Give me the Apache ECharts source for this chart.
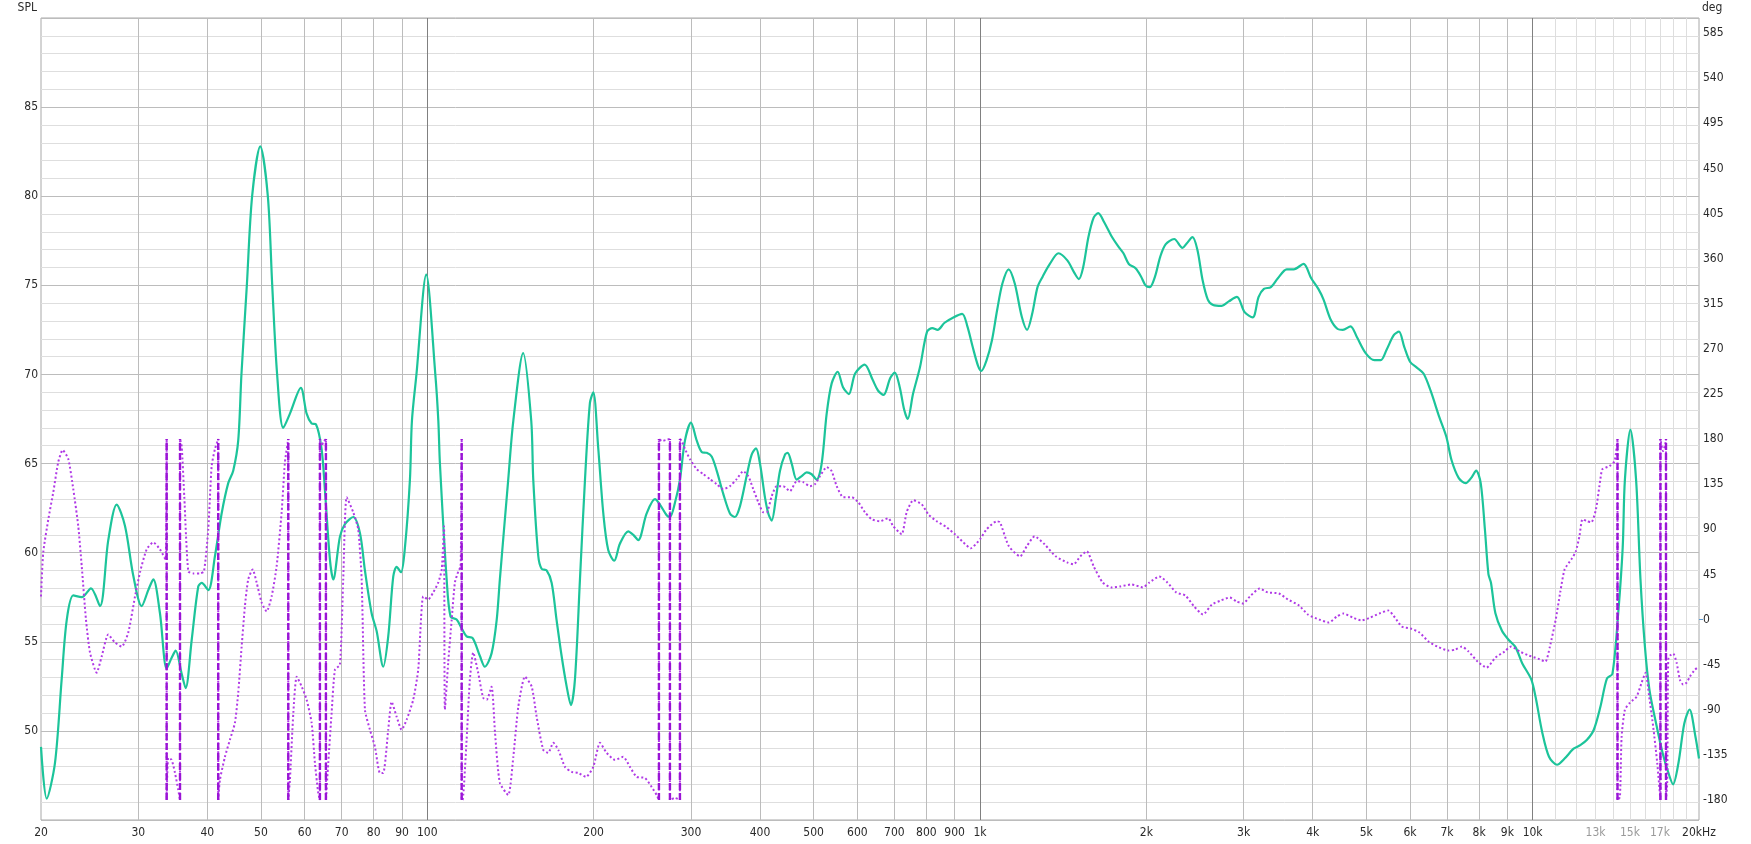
<!DOCTYPE html>
<html><head><meta charset="utf-8">
<script src="https://cdn.jsdelivr.net/npm/echarts@6/dist/echarts.min.js"></script>
<style>html,body{margin:0;padding:0;background:#fff}#chart{width:1751px;height:844px}</style>
</head><body><div id="chart"></div>
<script>
// SPL (left axis, dB)
const splFreq = [20,20.48,21.2,21.8,22.26,22.88,23.7,24.63,25.57,26.47,27.41,28.38,29.38,30.42,31.27,31.93,32.83,33.76,34.47,35.05,35.94,36.54,37.47,38.51,39.06,40.15,41.28,42.45,43.63,44.55,45.49,46.1,47.15,48.2,49.86,51.46,52.41,53.49,54.87,56.42,59.04,60.49,61.76,62.88,64.39,65.28,66.66,67.58,69.49,70.95,73.45,75.53,77.12,79.3,80.97,83.23,84.98,86.77,88.01,89.6,91.11,93.02,93.8,95.58,99.56,103.4,104.7,105.4,108.4,110.2,113,115.4,117.8,120.8,124.5,127.1,130.7,133.5,135.3,140.1,143.1,149.1,154.2,155.5,158.8,161,164.4,167.9,171.4,175,178.7,181.9,185,188.9,192.9,196.9,199.7,203.8,208.2,212.5,217.9,223.1,231,235.9,240.8,249.4,258.2,263.6,271.1,274.8,280.6,286.5,292.6,300,307.2,313.7,320.3,327,333.9,343.2,352.9,360.3,367.9,378.3,386.3,393.3,399.9,408.3,414,419.9,427.5,434.7,443.8,448.8,456.4,466,475.8,485.8,496,506.4,517.1,528,539.1,552.8,564.9,579.1,594.5,618.5,639.5,653.8,669.2,688.2,701.2,715.7,729.5,740.2,756.5,778.8,802.2,820.1,838.1,862.9,895.1,928.5,948.9,970,991.7,1006,1028,1051,1074,1098,1127,1156,1190,1217,1243,1271,1299,1338,1387,1439,1482,1510,1537,1571,1606,1637,1677,1727,1778,1818,1859,1914,1956,1993,2029,2074,2119,2167,2246,2325,2366,2424,2474,2528,2584,2641,2739,2820,2917,3012,3115,3193,3264,3361,3460,3590,3696,3850,3975,4095,4185,4308,4438,4535,4683,4808,4987,5173,5311,5445,5607,5729,5857,6005,6165,6347,6535,6779,6980,7132,7347,7564,7765,7902,8055,8197,8318,8408,8563,8805,9054,9311,9574,9940,10124,10411,10706,11069,11425,11861,12197,12542,12897,13262,13632,13942,14284,14554,14688,15028,15388,15672,15968,16270,16730,17204,17625,17950,18360,18808,19228,19700,20000];
const splDb = [49.1,46.2,48.2,52.9,56.2,57.6,57.5,58.0,57.0,60.7,62.7,61.5,58.7,57.0,57.9,58.5,56.6,53.5,54.1,54.5,53.2,52.4,55.1,58.1,58.3,57.9,59.8,62.2,63.9,64.6,66.3,70,75,80,82.8,80,75,70,67.0,67.8,69.25,67.8,67.25,67.2,65.8,63.5,59.6,58.5,60.9,61.6,62.0,61.1,59.0,56.6,55.6,53.6,55.3,58.65,59.2,58.9,60.3,64.1,67.4,70,75.6,70,67.4,65.0,58.5,56.4,56.25,55.75,55.3,55.2,54.2,53.6,54.35,56.2,58.5,64.1,67.4,71.2,67.4,64.1,59.8,59.1,59.0,58.3,56.2,54.2,52.5,51.45,52.9,58.5,64.1,68.4,69.0,65.9,62.2,60.15,59.55,60.5,61.2,61.0,60.7,62.2,63.0,62.7,62.1,62.0,62.8,64.1,66.3,67.3,66.3,65.65,65.6,65.4,64.6,63.3,62.2,62.0,62.6,64.3,65.5,65.85,65.0,63.1,62.2,61.8,63.1,64.6,65.5,65.6,65.0,64.1,64.3,64.5,64.4,64.1,65.0,67.8,69.5,70.15,69.3,68.9,70.05,70.55,69.7,69.1,68.85,69.8,70.1,69.3,68.0,67.5,68.9,70.4,72.4,72.6,72.5,72.9,73.2,73.4,72.7,71.55,70.5,70.2,70.8,71.9,73.6,75.1,75.9,75.1,73.25,72.5,73.4,74.9,75.5,76.2,76.8,76.4,75.7,75.35,76.0,77.7,78.8,79.05,78.55,77.8,77.2,76.8,76.2,75.95,75.5,75.0,74.9,75.5,76.6,77.3,77.6,77.1,77.35,77.7,77.0,75.3,74.2,73.9,73.85,74.1,74.35,73.5,73.2,74.35,74.8,74.9,75.4,75.9,75.9,76.2,75.4,74.8,74.2,73.1,72.55,72.5,72.7,72.1,71.2,70.8,70.8,71.4,72.2,72.4,71.55,70.7,70.4,70.05,69.1,67.6,66.5,65.2,64.2,63.9,64.25,64.6,63.9,61.3,58.8,58.3,56.6,55.6,55.1,54.7,53.8,52.9,51.9,49.9,48.55,48.1,48.45,49.0,49.2,49.5,50.05,51.35,52.95,53.2,56.6,60.3,64.1,66.9,64.1,58.5,54.7,52.3,50.4,48.7,47.6,47.0,48.2,50.4,51.2,49.7,48.45];

// Phase (right axis, degrees, wrapped to +-180)
const phaseFreq = [20,20.19,20.62,21.05,21.49,21.89,22.41,22.88,23.36,23.70,24.12,24.53,25.22,25.75,26.47,27.22,27.99,28.77,29.59,30.21,31.06,31.93,32.83,33.59,33.76,33.76,33.99,34.47,34.95,35.43,35.69,35.69,35.94,36.33,36.94,37.72,38.79,39.44,40.15,40.72,41.28,41.85,41.85,42.15,43.04,43.94,44.87,45.49,46.14,46.77,47.42,48.3,49.11,50.15,51.2,52.28,53.38,54.51,55.26,56.03,56.03,56.42,57.23,58.04,59.27,60.49,61.76,62.61,63.48,63.93,63.93,64.39,64.82,65.55,65.55,66.19,67.13,68.06,69.49,70.45,71.46,73.45,74.99,76.07,77.12,78.74,80.4,82.09,83.23,84.98,86.19,88.01,89.86,91.75,94.31,96.29,98.32,100.4,102.5,104.7,106.2,107.2,107.6,109.1,110.7,112.2,113.8,114.9,115.4,115.4,115.8,117.8,119.4,121.1,123.6,126.2,128.1,130.7,132.6,135.3,140.1,143.1,146.1,150.2,154.5,157.7,162.1,165.5,169,172.6,177.5,182.5,187.6,193.7,199.7,205.3,211.1,218.6,226.2,232.6,239.2,247.6,254.6,260,262.5,262.5,265.8,270,274.8,274.8,280.6,286.5,286.5,288.6,292.6,298.7,307.2,315.8,324.7,333.9,343.2,352.9,362.9,373,380.9,388.9,397.1,405.4,411.2,419.9,428.7,440.6,453.1,466,479,492.5,502.9,513.5,528,539.1,550.5,565.8,586,602.3,619.3,636.9,659.2,682.4,696.8,721.6,736.8,757.4,784.4,806.2,835,870.4,901,932.8,962,1000,1028,1072,1087,1128,1182,1215,1256,1309,1371,1437,1477,1519,1561,1606,1667,1730,1795,1881,1971,2027,2111,2183,2265,2352,2441,2532,2629,2729,2832,2912,2994,3079,3207,3317,3474,3607,3778,3920,4108,4279,4424,4551,4723,4902,5087,5281,5481,5634,5796,6015,6242,6480,6725,7046,7246,7448,7660,7952,8252,8563,8892,9142,9484,9846,10222,10546,10746,11010,11218,11426,11750,11972,12152,12310,12544,12776,13020,13262,13374,13770,14072,14242,14242,14386,14488,14688,14998,15422,15748,16012,16252,16526,16804,17030,17030,17208,17380,17430,17430,17520,17592,17718,17962,18218,18470,18726,18994,19256,19662,20000];
const phaseDeg = [23,67,100,127,157,169,160,130,93,53,0,-33,-53,-37,-15,-23,-27,-13,23,47,70,77,70,60,180,-180,-138,-140,-153,-170,-180,180,173,123,48,46,46,48,90,153,170,180,-180,-160,-137,-120,-103,-73,-27,13,40,50,37,17,8,23,53,107,157,180,-180,-160,-93,-57,-67,-80,-103,-143,-173,-180,180,173,177,180,-180,-143,-93,-50,-45,40,122,107,90,40,-90,-110,-127,-153,-153,-110,-82,-97,-110,-100,-80,-50,23,20,27,37,50,93,-90,-43,0,37,48,53,180,-180,-180,-120,-60,-33,-53,-78,-80,-67,-113,-163,-175,-137,-87,-57,-67,-97,-130,-133,-123,-130,-147,-152,-153,-157,-147,-123,-133,-140,-137,-147,-157,-158,-167,-175,-180,180,178,179,180,-180,-178,-180,180,178,170,160,150,145,140,135,130,133,140,148,143,130,117,107,107,123,133,133,128,138,137,133,135,143,152,148,133,122,122,117,107,100,98,101,93,85,107,119,115,105,98,92,85,77,71,80,90,98,97,73,63,73,83,75,63,57,55,63,68,53,37,32,33,35,32,37,43,37,27,24,13,5,15,19,22,18,16,23,31,27,26,20,14,5,0,-3,3,6,2,-1,2,6,9,2,-7,-9,-13,-22,-27,-31,-30,-27,-32,-42,-48,-38,-32,-27,-32,-36,-39,-42,-27,0,27,50,60,68,83,100,98,97,110,140,150,153,158,180,-180,-177,-117,-90,-83,-77,-63,-53,-77,-107,-143,-180,180,168,175,180,-180,-163,-40,-36,-34,-43,-60,-65,-63,-57,-50,-47];

// Frequencies where the phase wraps between -180 and +180
const wrapFreq = [33.76,35.69,41.85,56.03,63.93,65.55,115.4,262.5,274.8,286.5,14242,17030,17430];

// Axis ticks / labels
const xLabelValues = [20,30,40,50,60,70,80,90,100,200,300,400,500,600,700,800,900,1000,2000,3000,4000,5000,6000,7000,8000,9000,10000,13000,15000,17000,20000];
const xLabelText = ['20','30','40','50','60','70','80','90','100','200','300','400','500','600','700','800','900','1k','2k','3k','4k','5k','6k','7k','8k','9k','10k','13k','15k','17k','20kHz'];
const xLabelMuted = [13000,15000,17000];
const xGridValues = [30,40,50,60,70,80,90,200,300,400,500,600,700,800,900,2000,3000,4000,5000,6000,7000,8000,9000];
const xDecadeValues = [100,1000,10000];
const xFineValues = [11000,12000,13000,14000,15000,16000,17000,18000,19000];
const splTickValues = [50,55,60,65,70,75,80,85];
const phaseTickValues = [-180,-135,-90,-45,0,45,90,135,180,225,270,315,360,405,450,495,540,585];

const FONT = "'DejaVu Sans Condensed','Liberation Sans Narrow','DejaVu Sans',sans-serif";
const near = (a, b) => Math.abs(a - b) / b < 1e-6;

const splData = splFreq.map((f, i) => [f, splDb[i]]);
const phaseData = phaseFreq.map((f, i) => [f, phaseDeg[i]]);
const wrapData = [];
wrapFreq.forEach(f => { wrapData.push([f, -180], [f, 180], [f, '-']); });

function logAxis(values, color, extra) {
  return Object.assign({
    type: 'log', logBase: 10, min: 20, max: 20000, gridIndex: 0, position: 'bottom', offset: 0,
    axisLine: { show: false }, axisTick: { show: false, customValues: values },
    axisLabel: { show: false },
    splitLine: { show: true, lineStyle: { color: color, width: 1 } },
    minorSplitLine: { show: false }
  }, extra || {});
}

const chart = echarts.init(document.getElementById('chart'), null, { renderer: 'canvas' });
chart.setOption({
  animation: false,
  backgroundColor: '#ffffff',
  grid: { left: 41, right: 52, top: 18, bottom: 24, show: true, borderColor: '#a8a8a8', borderWidth: 1, containLabel: false, outerBoundsMode: 'none' },
  xAxis: [
    logAxis(xFineValues, '#dedede'),
    logAxis(xGridValues, '#bcbcbc'),
    logAxis(xDecadeValues, '#808080', {
      axisLabel: {
        show: true, customValues: xLabelValues, margin: 7, fontSize: 12, fontFamily: FONT,
        formatter: v => { const i = xLabelValues.findIndex(x => near(x, v)); return i >= 0 ? xLabelText[i] : ''; },
        color: v => xLabelMuted.some(x => near(x, v)) ? '#9a9a9a' : '#2a2a2a'
      }
    })
  ],
  yAxis: [
    {
      type: 'value', min: 45, max: 90, interval: 5, position: 'left',
      name: 'SPL', nameLocation: 'end', nameGap: 4,
      nameTextStyle: { fontSize: 12, fontFamily: FONT, color: '#2a2a2a', align: 'right', padding: [0, 4, 0, 0] },
      axisLine: { show: false }, axisTick: { show: false },
      axisLabel: { customValues: splTickValues, margin: 3, fontSize: 12, fontFamily: FONT, color: '#2a2a2a' },
      splitLine: { show: true, lineStyle: { color: '#bcbcbc', width: 1 } },
      minorTick: { show: false, splitNumber: 5 },
      minorSplitLine: { show: true, lineStyle: { color: '#dedede', width: 1 } }
    },
    {
      type: 'value', min: -200, max: 600, position: 'right',
      name: 'deg', nameLocation: 'end', nameGap: 4,
      nameTextStyle: { fontSize: 12, fontFamily: FONT, color: '#2a2a2a', align: 'left', padding: [0, 0, 0, 3] },
      axisLine: { show: false },
      axisTick: { show: true, customValues: [0], length: 4, inside: false, lineStyle: { color: '#5b9bd5', width: 1 } },
      axisLabel: { customValues: phaseTickValues, margin: 4, fontSize: 12, fontFamily: FONT, color: '#2a2a2a' },
      splitLine: { show: false }
    }
  ],
  series: [
    {
      name: 'SPL', type: 'line', xAxisIndex: 2, yAxisIndex: 0, data: splData,
      showSymbol: false, smooth: 0.3, z: 3,
      lineStyle: { color: '#1cc49a', width: 2.2 }
    },
    {
      name: 'Phase', type: 'line', xAxisIndex: 2, yAxisIndex: 1, data: phaseData,
      showSymbol: false, smooth: 0.2, z: 4,
      lineStyle: { color: '#b03ae6', width: 2, type: [2, 2.4], cap: 'butt' }
    },
    {
      name: 'Phase wrap', type: 'line', xAxisIndex: 2, yAxisIndex: 1, data: wrapData,
      showSymbol: false, connectNulls: false, z: 5,
      lineStyle: { color: '#9a14d6', width: 2.4, type: [7, 3] }
    }
  ]
});
</script>
</body></html>
